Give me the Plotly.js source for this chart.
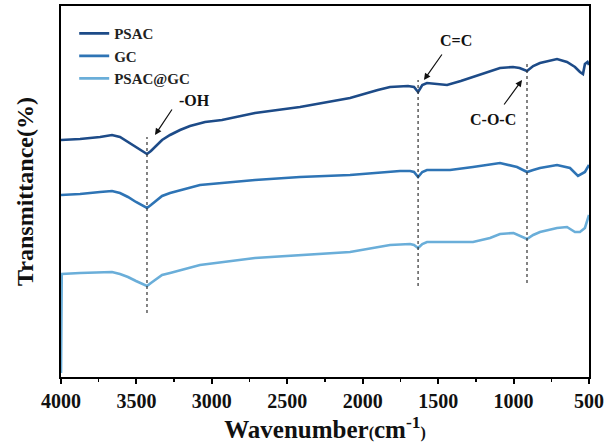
<!DOCTYPE html>
<html>
<head>
<meta charset="utf-8">
<script src="https://cdn.plot.ly/plotly-3.0.1.min.js"></script>
<style>html,body{margin:0;padding:0;background:#fff;}#chart{width:607px;height:443px;}</style>
</head>
<body>
<div id="chart"></div>
<script>
// Wavenumbers (cm^-1) and relative transmittance (arbitrary units, offset per series)
const psacX = [4000, 3874, 3741, 3662, 3609, 3556, 3503, 3456, 3430, 3404, 3370, 3330, 3277, 3211, 3145, 3045, 2933, 2714, 2416, 2084, 1900, 1819, 1700, 1660, 1633, 1605, 1574, 1500, 1441, 1350, 1269, 1180, 1090, 1004, 960, 911, 870, 825, 712, 646, 593, 560, 540, 527, 510, 500];
const psacY = [237, 238, 240, 242, 240, 235, 230, 226, 223, 226, 231, 237, 242, 247, 251, 255, 257, 264, 270, 279, 287, 290, 291, 290, 285, 292, 294, 293, 292, 296, 300, 305, 309, 310, 309, 306, 311, 314, 318, 315, 310, 305, 303, 313, 315, 312];

const gcX = [4000, 3874, 3741, 3662, 3609, 3556, 3503, 3456, 3430, 3404, 3370, 3330, 3277, 3145, 3079, 2714, 2416, 2084, 1753, 1686, 1660, 1633, 1605, 1574, 1421, 1269, 1090, 977, 911, 870, 825, 712, 626, 573, 527, 500];
const gcY = [182, 183, 185, 186, 184, 180, 175, 171, 169, 172, 176, 181, 184, 189, 192, 197, 200, 202, 206, 206, 205, 200, 205, 207, 207, 210, 214, 210, 205, 207, 209, 212, 209, 201, 205, 212];

const pgX = [4000, 3995, 3874, 3741, 3662, 3609, 3556, 3503, 3456, 3430, 3404, 3370, 3330, 3277, 3145, 3079, 2714, 2416, 2084, 1819, 1686, 1660, 1633, 1605, 1574, 1269, 1156, 1090, 1000, 911, 870, 825, 712, 646, 593, 560, 527, 500];
const pgY = [4, 103, 104, 105, 105, 103, 100, 96, 93, 91, 94, 98, 102, 104, 109, 112, 119, 122, 125, 132, 133, 132, 129, 133, 135, 135, 139, 143, 144, 138, 142, 145, 149, 150, 145, 145, 149, 162];

const seriesNames = ["PSAC", "GC", "PSAC@GC"];
const seriesColors = ["#1d4b88", "#2e74b5", "#6aaed9"];

// Marked bands: position, dashed-line extent, label
const bandX = [3430, 1633, 911];
const bandLow = [64, 91, 94];
const bandHigh = [240, 297, 314];
const bandLabels = ["-OH", "C=C", "C-O-C"];
const arrowHeadX = [3377, 1594, 944];
const arrowHeadY = [242, 297, 297];
const labelX = [3112, 1381, 1136];
const labelY = [277, 337, 258];
const arrowAx = [18, 19, -19];
const arrowAy = [-27, -27, 26];

const font = "Liberation Serif";

const xs = [psacX, gcX, pgX], ys = [psacY, gcY, pgY];
const traces = seriesNames.map((n, i) => ({
  x: xs[i], y: ys[i], name: n, type: "scatter", mode: "lines",
  line: {color: seriesColors[i], width: 2.6}
}));

const shapes = bandX.map((bx, i) => ({
  type: "line", xref: "x", yref: "y", x0: bx, x1: bx, y0: bandLow[i], y1: bandHigh[i],
  line: {color: "#333", width: 1.2, dash: "dot"}
}));

const annotations = [];
bandX.forEach((bx, i) => {
  annotations.push({
    x: arrowHeadX[i], y: arrowHeadY[i], xref: "x", yref: "y", text: "",
    showarrow: true, ax: arrowAx[i], ay: arrowAy[i], arrowhead: 2, arrowsize: 1.1,
    arrowwidth: 1.2, arrowcolor: "#111"
  });
  annotations.push({
    x: labelX[i], y: labelY[i], xref: "x", yref: "y", text: bandLabels[i],
    showarrow: false, font: {family: font, size: 16, color: "#111", weight: "bold"}
  });
});

const layout = {
  width: 607, height: 443,
  margin: {l: 61, r: 18, t: 6, b: 66},
  paper_bgcolor: "#fff", plot_bgcolor: "#fff",
  showlegend: true,
  legend: {x: 0.025, y: 0.97, xanchor: "left", yanchor: "top",
    font: {family: font, size: 15, color: "#222", weight: "bold"},
    bgcolor: "rgba(0,0,0,0)", itemwidth: 30, tracegroupgap: 0},
  xaxis: {
    range: [4000, 500], autorange: false,
    tickvals: [4000, 3500, 3000, 2500, 2000, 1500, 1000, 500],
    ticks: "outside", ticklen: 5, tickwidth: 2, tickcolor: "#000",
    minor: {dtick: 250, ticks: "outside", ticklen: 3, tickwidth: 1.5, tickcolor: "#000"},
    showline: true, linecolor: "#000", linewidth: 2, mirror: true,
    showgrid: false, zeroline: false,
    tickfont: {family: font, size: 20, color: "#111", weight: "bold"},
    title: {text: "Wavenumber<span style='font-size:16px'>(</span>cm<sup>-1</sup><span style='font-size:16px'>)</span>",
      font: {family: font, size: 25, color: "#111", weight: "bold"}, standoff: 6}
  },
  yaxis: {
    range: [0, 371], autorange: false,
    showticklabels: false, ticks: "",
    showline: true, linecolor: "#000", linewidth: 2, mirror: true,
    showgrid: false, zeroline: false,
    title: {text: "Transmittance(%)", font: {family: font, size: 24, color: "#111", weight: "bold"}, standoff: 19}
  },
  shapes: shapes,
  annotations: annotations
};

Plotly.newPlot("chart", traces, layout, {displayModeBar: false, staticPlot: true});
</script>
</body>
</html>
